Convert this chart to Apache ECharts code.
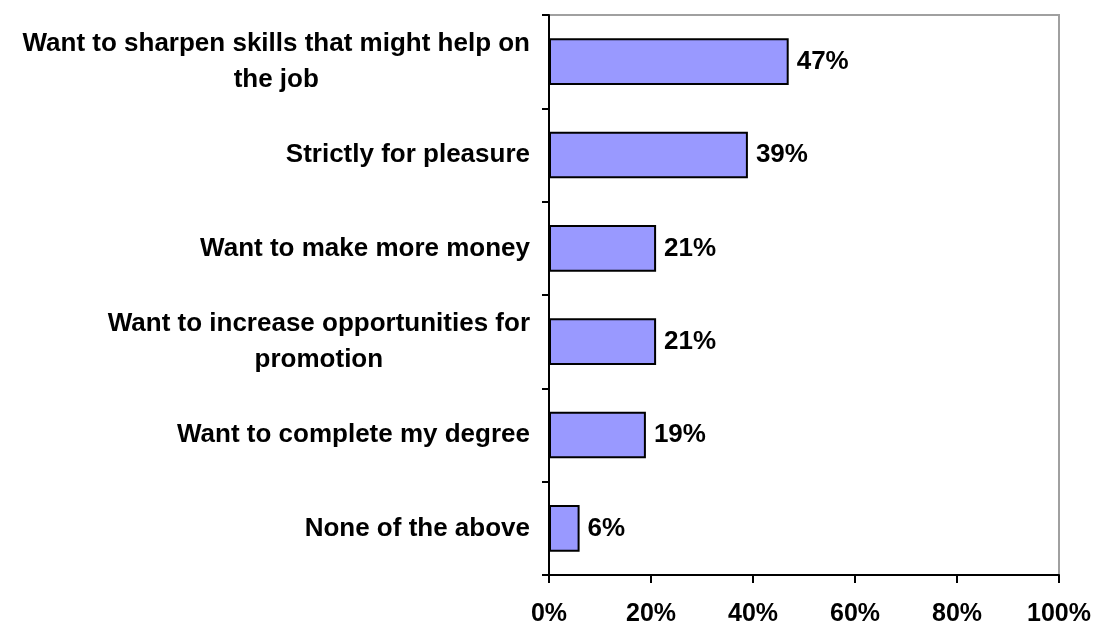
<!DOCTYPE html>
<html>
<head>
<meta charset="utf-8">
<script src="https://cdn.jsdelivr.net/npm/echarts@6/dist/echarts.min.js"></script>
<style>
html,body{margin:0;padding:0;background:#fff;}
#chart{width:1094px;height:624px;}
</style>
</head>
<body>
<div id="chart"></div>
<script>
const categories = [
  "Want to sharpen skills that might help on\nthe job",
  "Strictly for pleasure",
  "Want to make more money",
  "Want to increase opportunities for\npromotion",
  "Want to complete my degree",
  "None of the above"
];
const values = [47, 39, 21, 21, 19, 6];
const xTicks = { min: 0, max: 100, interval: 20 };

const FONT = "Liberation Sans";
const chart = echarts.init(document.getElementById('chart'), null, { renderer: 'canvas' });
chart.setOption({
  backgroundColor: '#ffffff',
  animation: false,
  grid: {
    left: 549, right: 35, top: 15, bottom: 49,
    containLabel: false, outerBoundsMode: 'none',
    show: true, borderColor: '#a0a0a0', borderWidth: 2, backgroundColor: 'transparent'
  },
  xAxis: {
    type: 'value',
    min: xTicks.min, max: xTicks.max, interval: xTicks.interval,
    axisLine: { show: true, lineStyle: { color: '#000', width: 2 } },
    axisTick: { show: true, inside: false, length: 8, lineStyle: { color: '#000', width: 2 } },
    splitLine: { show: false },
    axisLabel: {
      formatter: '{value}%', color: '#000', fontFamily: FONT, fontWeight: 'bold',
      fontSize: 25, margin: 27
    }
  },
  yAxis: {
    type: 'category',
    inverse: true,
    data: categories,
    boundaryGap: true,
    axisLine: { show: true, lineStyle: { color: '#000', width: 2 } },
    axisTick: { show: true, inside: false, length: 7, alignWithLabel: false, lineStyle: { color: '#000', width: 2 } },
    splitLine: { show: false },
    axisLabel: {
      color: '#000', fontFamily: FONT, fontWeight: 'bold', fontSize: 26, margin: 19,
      align: 'right',
      formatter: function (v) {
        return v.split('\n').map(function (s) { return '{c|' + s + '}'; }).join('\n');
      },
      rich: {
        c: { align: 'center', color: '#000', fontFamily: FONT, fontWeight: 'bold', fontSize: 26, lineHeight: 36 }
      }
    }
  },
  series: [{
    type: 'bar',
    data: values,
    barWidth: '50%',
    itemStyle: { color: '#9999ff', borderColor: '#000', borderWidth: 2 },
    label: {
      show: true, position: 'right', distance: 8, formatter: '{c}%',
      color: '#000', fontFamily: FONT, fontWeight: 'bold', fontSize: 26
    }
  }]
});
</script>
</body>
</html>
